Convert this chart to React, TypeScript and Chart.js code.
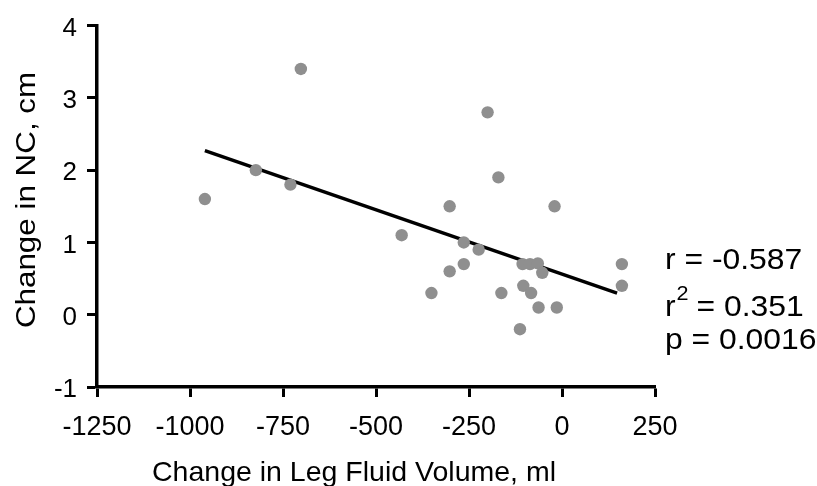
import React, { useEffect, useRef } from "react";
import { Chart, registerables } from "chart.js";

Chart.register(...registerables);

const legVolume = [-960, -823, -730, -702, -431, -200, -171, -302, -20, -264, -224, -264, -302, -351, -106, -86, -65, -53, -104, -83, -163, -63, -14, -113, 161, 161];
const neckChange = [1.6, 2.0, 1.8, 3.4, 1.1, 2.8, 1.9, 1.5, 1.5, 1.0, 0.9, 0.7, 0.6, 0.3, 0.7, 0.7, 0.71, 0.58, 0.4, 0.3, 0.3, 0.1, 0.1, -0.2, 0.7, 0.4];
const fitX = [-960, 148];
const fitY = [2.27, 0.3];
const xTitle = "Change in Leg Fluid Volume, ml";
const yTitle = "Change in NC, cm";
const statR = "r = -0.587";
const statR2 = "0.351";
const statP = "p = 0.0016";

const FONT = "'Liberation Sans', Arial, Helvetica, sans-serif";

export default function App() {
  const ref = useRef<HTMLCanvasElement | null>(null);
  useEffect(() => {
    if (!ref.current) return;
    const textPlugin = {
      id: "texts",
      afterDraw(chart: any) {
        const ctx = chart.ctx;
        ctx.save();
        ctx.fillStyle = "#000";
        // y title
        ctx.font = `28px ${FONT}`;
        ctx.textAlign = "center";
        ctx.textBaseline = "middle";
        ctx.translate(27, 200);
        ctx.rotate(-Math.PI / 2);
        ctx.scale(1.12, 1);
        ctx.fillText(yTitle, 0, 0);
        ctx.setTransform(1, 0, 0, 1, 0, 0);
        // x title
        ctx.font = `28.5px ${FONT}`;
        ctx.textAlign = "center";
        ctx.textBaseline = "alphabetic";
        ctx.fillText(xTitle, 354, 481);
        // stats
        const sx = 1.08;
        const drawWide = (t: string, x: number, y: number) => {
          ctx.save();
          ctx.translate(x, y);
          ctx.scale(sx, 1);
          ctx.fillText(t, 0, 0);
          ctx.restore();
        };
        ctx.textAlign = "left";
        ctx.font = `29.5px ${FONT}`;
        drawWide(statR, 665, 269);
        drawWide("r", 665, 316);
        const rw = ctx.measureText("r").width * sx;
        ctx.font = `20px ${FONT}`;
        drawWide("2", 665 + rw + 1, 300);
        const sw = ctx.measureText("2").width * sx;
        ctx.font = `29.5px ${FONT}`;
        drawWide(" = " + statR2, 665 + rw + sw, 316);
        drawWide(statP, 665, 349);
        ctx.restore();
      },
    };
    const chart = new Chart(ref.current, {
      type: "scatter",
      data: {
        datasets: [
          {
            label: "fit",
            data: fitX.map((x, i) => ({ x, y: fitY[i] })),
            showLine: true,
            borderColor: "#000",
            borderWidth: 3.5,
            pointRadius: 0,
            order: 2,
          },
          {
            label: "points",
            data: legVolume.map((x, i) => ({ x, y: neckChange[i] })),
            backgroundColor: "#8f8f8f",
            borderColor: "#8f8f8f",
            borderWidth: 0,
            pointRadius: 6.2,
            order: 1,
          },
        ],
      },
      options: {
        responsive: false,
        animation: false,
        layout: { padding: { left: 0, top: 16, right: 162, bottom: 0 } },
        plugins: { legend: { display: false }, tooltip: { enabled: false } },
        scales: {
          x: {
            type: "linear",
            min: -1250,
            max: 250,
            afterFit: (s: any) => {
              s.height = 99;
            },
            ticks: {
              stepSize: 250,
              color: "#000",
              font: { size: 27, family: FONT },
              padding: 14,
              maxRotation: 0,
              callback: (v: any) => String(v),
            },
            grid: {
              drawOnChartArea: false,
              drawTicks: true,
              tickLength: 10,
              tickColor: "#000",
              tickWidth: 3,
            },
            border: { display: true, color: "#000", width: 3.5 },
          },
          y: {
            type: "linear",
            min: -1,
            max: 4,
            afterFit: (s: any) => {
              s.width = 97;
            },
            ticks: {
              stepSize: 1,
              color: "#000",
              font: { size: 26, family: FONT },
              padding: 10,
              labelOffset: 3,
              callback: (v: any) => String(v),
            },
            grid: {
              drawOnChartArea: false,
              drawTicks: true,
              tickLength: 10,
              tickColor: "#000",
              tickWidth: 3,
            },
            border: { display: true, color: "#000", width: 3.5 },
          },
        },
      },
      plugins: [textPlugin],
    });
    return () => chart.destroy();
  }, []);
  return (
    <div style={{ position: "absolute", left: 0, top: 0, width: 817, height: 486, background: "#fff" }}>
      <canvas ref={ref} width={817} height={486} style={{ display: "block" }} />
    </div>
  );
}
